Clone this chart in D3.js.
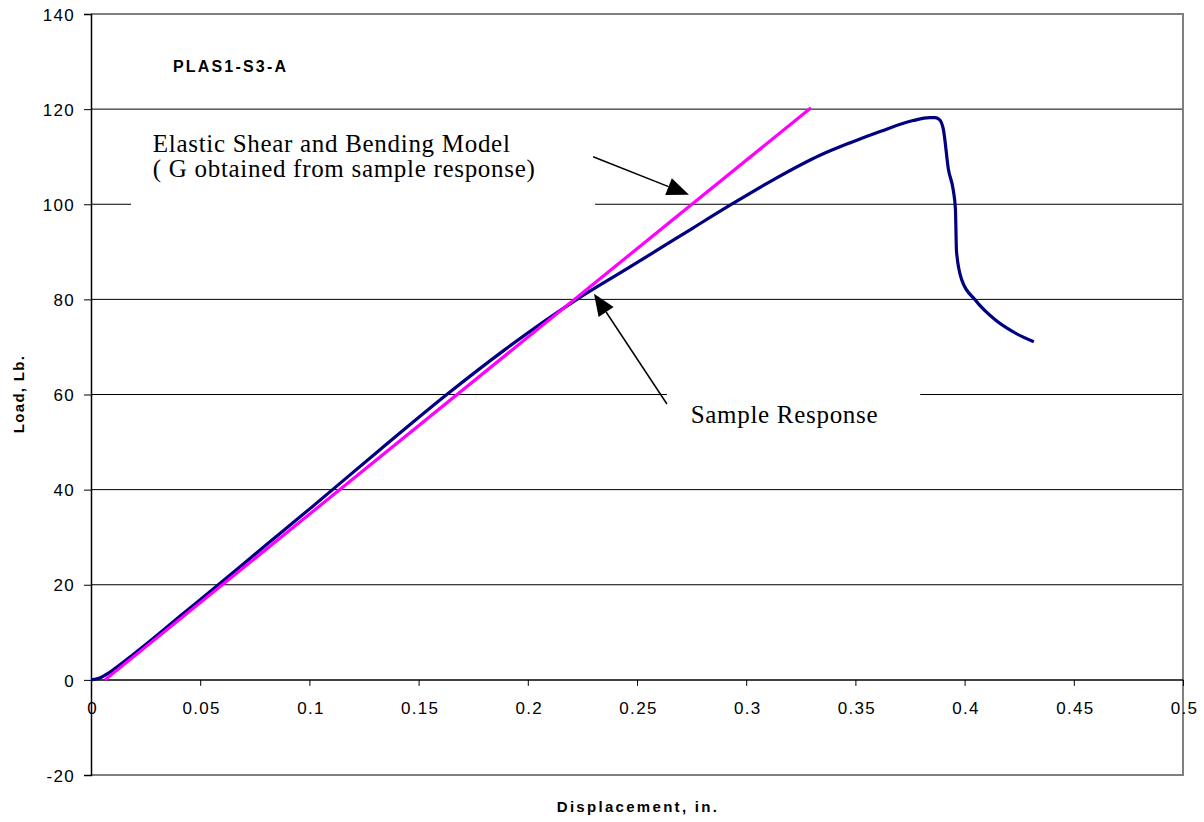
<!DOCTYPE html>
<html>
<head>
<meta charset="utf-8">
<script src="https://cdn.jsdelivr.net/npm/d3@7/dist/d3.min.js"></script>
<style>
  body { margin: 0; background: #fff; }
  .tick-label { font-family: "Liberation Sans", Arial, sans-serif; font-size: 17px; letter-spacing: 1.3px; fill: #000; }
  .title { font-family: "Liberation Sans", Arial, sans-serif; font-weight: bold; fill: #000; }
  .note { font-family: "Liberation Serif", "Times New Roman", serif; font-size: 25px; letter-spacing: 0.7px; fill: #000; }
</style>
</head>
<body>
<script>
var w = 1204;
var h = 822;

// sample response (displacement in., load lb.)
var sampleX = [0, 0.004, 0.008, 0.0125, 0.0192, 0.03, 0.04, 0.0583, 0.08, 0.1, 0.1323, 0.1629, 0.19, 0.2225,
  0.2453, 0.2605, 0.2756, 0.2926, 0.3130, 0.3338, 0.3480, 0.3613, 0.3764, 0.3840, 0.3865, 0.3885,
  0.3903, 0.3926, 0.3948, 0.3958, 0.3963, 0.3987, 0.4048, 0.4140, 0.4221, 0.4317];
var sampleY = [0, 0.4, 1.4, 2.9, 5.3, 9.3, 13.1, 20, 28.3, 35.9, 48.4, 60, 69.6, 80,
  86.4, 90.7, 95.0, 99.8, 105.3, 110.3, 113.0, 115.3, 117.6, 118.2, 118.2, 117.8,
  115.7, 107.3, 103.0, 99.0, 90.0, 84.1, 79.9, 75.7, 73.2, 71.1];

// elastic shear and bending model
var modelX = [0.0064, 0.3297];
var modelY = [0, 120.3];

var xTicks = [0, 0.05, 0.1, 0.15, 0.2, 0.25, 0.3, 0.35, 0.4, 0.45, 0.5];
var xTickLabels = ["0", "0.05", "0.1", "0.15", "0.2", "0.25", "0.3", "0.35", "0.4", "0.45", "0.5"];
var yTicks = [-20, 0, 20, 40, 60, 80, 100, 120, 140];
var yTickLabels = ["-20", "0", "20", "40", "60", "80", "100", "120", "140"];
var gridValues = [20, 40, 60, 80, 100, 120];

var sample = sampleX.map(function(d, i) { return {x: d, y: sampleY[i]}; });
var model = modelX.map(function(d, i) { return {x: d, y: modelY[i]}; });

var svg = d3.select("body").append("svg")
    .attr("width", w)
    .attr("height", h);

var xScale = d3.scaleLinear().domain([0, 0.5]).range([91, 1183]);
var yScale = d3.scaleLinear().domain([-20, 140]).range([775, 14]);

// grid lines
svg.selectAll("line.grid")
    .data(gridValues)
    .enter()
    .append("line")
    .attr("class", "grid")
    .attr("x1", xScale(0))
    .attr("x2", xScale(0.5))
    .attr("y1", function(d) { return yScale(d); })
    .attr("y2", function(d) { return yScale(d); })
    .attr("stroke", "#000")
    .attr("stroke-width", 1);

// frame (top, right, bottom in gray)
svg.append("path")
    .attr("d", "M" + xScale(0) + "," + yScale(140) + "H" + xScale(0.5) + "V" + yScale(-20) + "H" + xScale(0))
    .attr("fill", "none")
    .attr("stroke", "#808080")
    .attr("stroke-width", 2);

// white boxes behind the notes
svg.append("rect")
    .attr("x", xScale(0.0183))
    .attr("y", yScale(118.2))
    .attr("width", xScale(0.2308) - xScale(0.0183))
    .attr("height", yScale(98) - yScale(118.2))
    .attr("fill", "#fff");

svg.append("rect")
    .attr("x", xScale(0.2637))
    .attr("y", yScale(62.7))
    .attr("width", xScale(0.3797) - xScale(0.2637))
    .attr("height", yScale(50.5) - yScale(62.7))
    .attr("fill", "#fff");

// y axis
var yAxis = d3.axisLeft(yScale).tickValues(yTicks).tickSize(7)
    .tickFormat(function(d, i) { return yTickLabels[i]; });
var gy = svg.append("g")
    .attr("transform", "translate(" + xScale(0) + ",0)")
    .call(yAxis);
gy.select(".domain").attr("stroke", "#000").attr("stroke-width", 1.5);
gy.selectAll(".tick line").attr("stroke", "#000");
gy.selectAll(".tick text")
    .attr("class", "tick-label")
    .attr("x", -16)
    .attr("dy", "0.36em");

// x axis at load = 0
var xAxis = d3.axisBottom(xScale).tickValues(xTicks).tickSize(6)
    .tickFormat(function(d, i) { return xTickLabels[i]; });
var gx = svg.append("g")
    .attr("transform", "translate(0," + yScale(0) + ")")
    .call(xAxis);
gx.select(".domain").attr("stroke", "#000").attr("stroke-width", 1.5).attr("d", "M" + xScale(0) + ",0H" + xScale(0.5));
gx.selectAll(".tick line").attr("stroke", "#000");
gx.selectAll(".tick text")
    .attr("class", "tick-label")
    .attr("y", 34)
    .attr("dy", 0)
    .attr("dx", 1);
svg.selectAll("g").attr("font-size", null).attr("font-family", null);

var line = d3.line()
    .curve(d3.curveMonotoneX)
    .x(function(d) { return xScale(d.x); })
    .y(function(d) { return yScale(d.y); });

svg.append("path")
    .datum(sample)
    .attr("d", line)
    .attr("fill", "none")
    .attr("stroke", "#000080")
    .attr("stroke-width", 3.2)
    .attr("stroke-linejoin", "round");

svg.append("path")
    .datum(model)
    .attr("d", d3.line().x(function(d) { return xScale(d.x); }).y(function(d) { return yScale(d.y); }))
    .attr("fill", "none")
    .attr("stroke", "#ff00ff")
    .attr("stroke-width", 3.2);

// arrows
var arrows = [
  {x1: 0.2299, y1: 110.0, x2: 0.2738, y2: 102.0},
  {x1: 0.2637, y1: 58.0, x2: 0.2303, y2: 81.2}
];
arrows.forEach(function(a) {
  var x1 = xScale(a.x1), y1 = yScale(a.y1), x2 = xScale(a.x2), y2 = yScale(a.y2);
  var ang = Math.atan2(y2 - y1, x2 - x1);
  var len = 22, hw = 9;
  var bx = x2 - len * Math.cos(ang), by = y2 - len * Math.sin(ang);
  svg.append("line")
      .attr("x1", x1).attr("y1", y1)
      .attr("x2", bx).attr("y2", by)
      .attr("stroke", "#000")
      .attr("stroke-width", 1.5);
  svg.append("path")
      .attr("d", "M" + x2 + "," + y2 +
        "L" + (bx + hw * Math.sin(ang)) + "," + (by - hw * Math.cos(ang)) +
        "L" + (bx - hw * Math.sin(ang)) + "," + (by + hw * Math.cos(ang)) + "Z")
      .attr("fill", "#000");
});

// notes
svg.append("text")
    .attr("class", "note")
    .attr("x", xScale(0.0283))
    .attr("y", yScale(110.96))
    .text("Elastic Shear and Bending Model");

svg.append("text")
    .attr("class", "note")
    .attr("x", xScale(0.0283))
    .attr("y", yScale(105.8))
    .text("( G obtained from sample response)");

svg.append("text")
    .attr("class", "note")
    .attr("x", xScale(0.2746))
    .attr("y", yScale(54.1))
    .text("Sample Response");

svg.append("text")
    .attr("class", "title")
    .attr("x", xScale(0.0375))
    .attr("y", yScale(127.9))
    .style("font-size", "16px")
    .style("letter-spacing", "2.2px")
    .text("PLAS1-S3-A");

// axis titles
svg.append("text")
    .attr("class", "title")
    .attr("x", 638)
    .attr("y", 812)
    .attr("text-anchor", "middle")
    .style("font-size", "15px")
    .style("letter-spacing", "2.3px")
    .text("Displacement, in.");

svg.append("text")
    .attr("class", "title")
    .attr("transform", "translate(24,394) rotate(-90)")
    .attr("text-anchor", "middle")
    .style("font-size", "15px")
    .style("letter-spacing", "1.3px")
    .text("Load, Lb.");
</script>
</body>
</html>
